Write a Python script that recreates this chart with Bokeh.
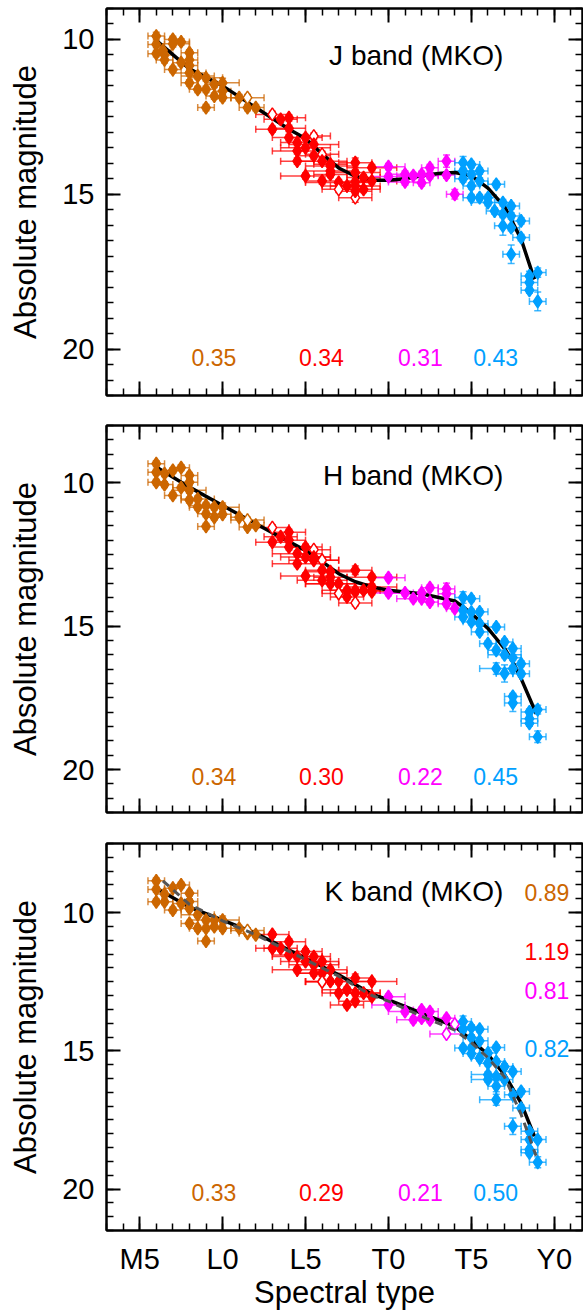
from bokeh.plotting import figure
from bokeh.models import (ColumnDataSource, Range1d, LinearAxis, FixedTicker, Whisker, TeeHead,
                          Label, CustomLabelingPolicy)
from bokeh.layouts import column
from bokeh.embed import file_html
from bokeh.resources import INLINE

FONT = "Liberation Sans"
COLORS = ["#CC6600", "#FF0000", "#FF00FF", "#00A0FF"]
X_TICKS = [5, 10, 15, 20, 25, 30]
X_LABELS = ["M5", "L0", "L5", "T0", "T5", "Y0"]
Y_TICKS = [10, 15, 20]

# ---------------- J band ----------------
J_spt = [[6.0, 6.0, 6.0, 6.4, 6.5, 6.5, 7.0, 7.0, 7.5, 7.0, 7.5, 8.0, 8.0, 8.0, 8.0, 8.0, 8.5, 8.5, 9.0, 9.0, 9.0, 9.5, 9.5, 10.0, 10.0, 10.0, 11.0, 11.5, 12.0, 11.5],
         [13.0, 13.5, 14.0, 13.0, 14.0, 14.0, 14.5, 14.5, 14.5, 15.0, 15.0, 15.5, 15.5, 15.5, 16.0, 16.0, 16.5, 16.5, 17.0, 17.0, 18.0, 18.0, 15.0, 16.0, 16.5, 17.5, 18.0, 18.0, 18.5, 18.5, 19.0, 16.5, 18.0, 18.0, 19.0],
         [20.0, 20.0, 21.0, 21.0, 21.5, 22.0, 22.0, 22.5, 22.5, 23.5, 23.5, 24.0],
         [24.5, 24.5, 24.5, 25.0, 25.0, 25.0, 25.5, 25.5, 25.5, 26.5, 26.0, 25.0, 26.9, 27.4, 26.0, 26.4, 26.9, 27.4, 26.9, 27.4, 28.0, 28.0, 27.4, 28.5, 28.5, 28.5, 29.0, 29.0]]
J_mag = [[9.89, 10.16, 10.46, 10.35, 10.5, 10.66, 10.0, 10.14, 10.08, 10.97, 10.75, 10.43, 10.66, 10.84, 11.08, 11.4, 11.18, 11.61, 11.24, 11.61, 12.2, 11.45, 11.83, 11.4, 11.67, 11.88, 11.88, 12.2, 12.2, 11.88],
         [12.42, 12.58, 12.53, 12.9, 12.87, 13.17, 13.33, 13.6, 13.93, 13.17, 13.5, 13.12, 13.39, 13.76, 13.71, 13.93, 14.03, 14.25, 14.62, 14.84, 13.98, 15.11, 14.41, 14.57, 14.36, 14.73, 14.73, 14.9, 14.46, 14.84, 14.57, 14.09, 14.3, 14.6, 14.14],
         [14.11, 14.43, 14.35, 14.6, 14.4, 14.63, 14.36, 14.14, 14.4, 13.93, 14.38, 15.0],
         [13.98, 14.25, 14.5, 14.04, 14.36, 14.73, 14.25, 14.57, 15.11, 14.68, 15.11, 15.11, 15.27, 15.38, 15.27, 15.54, 15.65, 15.7, 16.02, 16.08, 15.86, 16.4, 16.94, 17.64, 17.85, 18.1, 17.53, 18.46]]
J_xerr = [[0.5, 0.5, 0.5, 0.5, 0.5, 0.5, 0.5, 1.0, 0.5, 0.5, 0.5, 0.5, 0.5, 0.5, 1.0, 0.5, 1.0, 0.5, 1.0, 0.5, 0.5, 0.5, 0.5, 1.0, 0.5, 0.5, 0.5, 0.5, 0.5, 1.0],
          [1.0, 1.0, 1.0, 1.0, 1.0, 1.0, 1.0, 1.5, 1.0, 1.0, 1.5, 1.0, 1.5, 1.0, 1.0, 1.5, 1.0, 1.5, 2.0, 1.0, 1.0, 1.0, 1.5, 1.0, 1.0, 1.5, 1.5, 1.0, 1.0, 1.0, 1.5, 1.5, 1.5, 1.0, 1.5],
          [1.0, 1.0, 1.0, 1.0, 1.0, 0.5, 0.5, 0.5, 0.5, 0.5, 0.5, 0.5],
          [0.5, 0.5, 0.5, 0.5, 0.5, 0.5, 0.5, 0.5, 0.5, 0.5, 0.5, 0.5, 0.5, 0.5, 1.0, 0.5, 0.5, 0.5, 0.5, 0.5, 0.5, 0.5, 0.5, 0.5, 0.5, 0.5, 0.5, 0.5]]
J_yerr = [[0.12, 0.1, 0.1, 0.1, 0.1, 0.1, 0.1, 0.1, 0.1, 0.1, 0.1, 0.1, 0.1, 0.1, 0.1, 0.1, 0.1, 0.1, 0.1, 0.1, 0.1, 0.1, 0.1, 0.15, 0.1, 0.1, 0.1, 0.1, 0.1, 0.1],
          [0.1, 0.1, 0.1, 0.1, 0.1, 0.1, 0.1, 0.1, 0.1, 0.1, 0.1, 0.1, 0.1, 0.1, 0.1, 0.1, 0.1, 0.1, 0.1, 0.1, 0.15, 0.15, 0.1, 0.1, 0.1, 0.1, 0.2, 0.1, 0.1, 0.1, 0.1, 0.1, 0.1, 0.1, 0.1],
          [0.1, 0.1, 0.1, 0.1, 0.1, 0.1, 0.1, 0.1, 0.1, 0.2, 0.1, 0.15],
          [0.2, 0.1, 0.1, 0.1, 0.1, 0.1, 0.1, 0.1, 0.1, 0.1, 0.1, 0.1, 0.1, 0.1, 0.1, 0.1, 0.1, 0.1, 0.3, 0.1, 0.1, 0.1, 0.3, 0.15, 0.1, 0.1, 0.15, 0.3]]
J_open = [[0] * 29 + [1],
          [1, 0, 0, 0, 0, 0, 0, 0, 0, 0, 0, 1, 0, 0, 1, 0, 0, 0, 0, 1, 0, 1, 0, 0, 0, 0, 0, 0, 0, 0, 0, 0, 0, 0, 0],
          [0] * 12,
          [0] * 28]
J_curve_spt = [6, 8, 10, 12, 14, 15, 16, 17, 18, 19, 20, 21, 22, 23, 24, 25, 26, 27, 28, 28.8]
J_curve_mag = [10.03, 10.95, 11.5, 12.2, 12.9, 13.2, 13.7, 14.15, 14.42, 14.55, 14.55, 14.5, 14.4, 14.33, 14.3, 14.4, 14.8, 15.4, 16.45, 17.75]
J_sigma = ["0.35", "0.34", "0.31", "0.43"]

# ---------------- H band ----------------
H_spt = [[6.0, 6.0, 6.0, 6.5, 6.5, 7.0, 7.0, 7.5, 7.5, 8.0, 8.0, 8.0, 8.0, 8.5, 8.5, 9.0, 9.0, 9.0, 9.5, 9.5, 10.0, 10.0, 11.0, 11.5, 12.0, 11.5],
         [13.0, 13.0, 13.5, 14.0, 14.0, 14.0, 14.5, 14.5, 15.0, 15.0, 15.0, 15.5, 15.5, 15.5, 16.0, 16.0, 16.0, 16.5, 16.5, 16.5, 17.0, 17.0, 17.5, 17.5, 18.0, 18.0, 18.0, 18.0, 18.5, 19.0, 19.0, 19.0],
         [20.0, 20.0, 21.0, 21.5, 22.0, 22.0, 22.5, 22.5, 23.5, 23.5, 23.5, 24.0],
         [24.5, 24.5, 24.5, 25.0, 25.0, 25.0, 25.5, 25.5, 25.5, 26.0, 26.5, 26.5, 26.5, 27.0, 27.0, 27.0, 27.5, 27.5, 27.5, 27.5, 27.5, 28.0, 28.0, 28.5, 28.5, 28.5, 29.0, 29.0]]
H_mag = [[9.33, 9.63, 9.98, 9.68, 10.06, 9.57, 10.44, 9.47, 10.17, 9.74, 9.98, 10.26, 10.6, 10.56, 10.85, 10.79, 11.08, 11.52, 10.85, 11.2, 10.85, 11.1, 11.2, 11.54, 11.48, 11.3],
         [11.56, 12.07, 11.88, 11.72, 12.0, 12.24, 12.47, 12.82, 12.24, 12.59, 13.25, 12.33, 12.59, 12.7, 12.7, 13.05, 13.4, 13.29, 13.52, 13.1, 13.52, 13.86, 13.75, 13.98, 13.05, 13.75, 13.8, 14.19, 13.75, 13.29, 13.63, 13.8],
         [13.31, 13.84, 13.84, 14.04, 13.84, 14.04, 13.66, 14.16, 13.7, 13.87, 14.22, 14.39],
         [14.0, 14.45, 14.68, 14.04, 14.51, 14.85, 14.5, 15.2, 14.91, 15.61, 15.03, 15.84, 16.48, 15.55, 16.0, 16.65, 15.78, 16.1, 16.48, 17.45, 17.68, 16.31, 16.66, 17.99, 18.23, 18.39, 17.91, 18.86]]
H_xerr = [[0.5, 0.5, 0.5, 0.5, 0.5, 0.5, 0.5, 0.5, 0.5, 0.5, 0.5, 1.0, 0.5, 1.0, 0.5, 1.0, 0.5, 0.5, 0.5, 0.5, 1.0, 0.5, 0.5, 0.5, 0.5, 1.0],
          [1.0, 1.0, 1.0, 1.0, 1.0, 1.0, 1.5, 1.5, 1.0, 1.5, 1.5, 1.0, 1.0, 1.5, 1.0, 1.0, 1.5, 1.0, 1.5, 1.5, 2.0, 1.0, 1.5, 1.0, 1.0, 1.5, 1.0, 1.0, 1.0, 1.5, 1.5, 1.0],
          [1.0, 1.0, 1.0, 1.0, 0.5, 0.5, 0.5, 0.5, 0.5, 0.5, 0.5, 0.5],
          [0.5, 0.5, 0.5, 0.5, 0.5, 0.5, 0.5, 0.5, 0.5, 0.5, 0.5, 0.5, 1.0, 0.5, 1.0, 0.5, 0.5, 0.5, 0.5, 0.5, 0.5, 0.5, 0.5, 0.5, 0.5, 0.5, 0.5, 0.5]]
H_yerr = [[0.1] * 20 + [0.15, 0.1, 0.1, 0.1, 0.1, 0.1],
          [0.1] * 24 + [0.15, 0.1, 0.1, 0.1, 0.1, 0.1, 0.1, 0.1],
          [0.1, 0.1, 0.1, 0.1, 0.1, 0.1, 0.1, 0.1, 0.2, 0.1, 0.1, 0.1],
          [0.2, 0.1, 0.1, 0.1, 0.1, 0.1, 0.1, 0.1, 0.1, 0.1, 0.1, 0.1, 0.2, 0.1, 0.1, 0.3, 0.1, 0.1, 0.1, 0.1, 0.3, 0.1, 0.1, 0.1, 0.1, 0.1, 0.15, 0.2]]
H_open = [[0] * 25 + [1],
          [1, 0, 0, 0, 0, 0, 0, 0, 0, 0, 0, 1, 0, 0, 1, 0, 0, 0, 0, 0, 0, 1, 0, 0, 0, 0, 0, 1, 0, 0, 0, 0],
          [0] * 12,
          [0] * 28]
H_curve_spt = [6, 8, 10, 12, 14, 15, 16, 17, 18, 19, 20, 22, 24, 24.5, 25, 26, 26.5, 27, 27.5, 28, 28.9]
H_curve_mag = [9.45, 10.15, 10.79, 11.43, 12.05, 12.36, 12.75, 13.17, 13.45, 13.63, 13.75, 13.87, 14.12, 14.33, 14.56, 15.08, 15.43, 15.78, 16.25, 16.83, 18.04]
H_sigma = ["0.34", "0.30", "0.22", "0.45"]

# ---------------- K band ----------------
K_spt = [[6.0, 6.0, 6.0, 6.5, 6.5, 7.0, 7.0, 7.5, 7.5, 8.0, 8.0, 8.0, 8.0, 8.5, 8.5, 9.0, 9.0, 9.0, 9.5, 9.5, 10.0, 10.0, 11.0, 11.5, 12.0, 11.5],
         [13.0, 13.0, 13.5, 14.0, 14.0, 14.5, 14.5, 15.0, 15.0, 15.5, 15.5, 15.5, 16.0, 16.0, 16.0, 16.5, 16.5, 17.0, 17.0, 17.5, 17.5, 18.0, 18.0, 18.0, 18.5, 19.0, 19.0],
         [20.0, 20.0, 21.0, 21.5, 22.0, 22.0, 22.5, 22.5, 23.5, 23.5, 24.0],
         [24.5, 24.5, 24.5, 25.0, 25.0, 25.0, 25.0, 25.5, 25.5, 25.5, 26.0, 26.0, 26.0, 26.0, 26.5, 26.5, 26.5, 26.5, 26.5, 27.0, 27.0, 27.5, 27.5, 27.5, 28.0, 28.0, 28.5, 28.5, 28.5, 28.5, 29.0, 29.0]]
K_mag = [[8.85, 9.16, 9.61, 9.33, 9.61, 9.12, 9.91, 9.0, 9.67, 9.3, 9.6, 9.85, 10.39, 10.08, 10.57, 10.27, 10.57, 11.03, 10.27, 10.51, 10.27, 10.57, 10.57, 10.75, 10.8, 10.65],
         [10.79, 11.29, 11.29, 11.05, 11.53, 11.59, 12.07, 11.41, 11.77, 11.59, 11.89, 12.19, 11.77, 12.19, 12.5, 12.07, 12.49, 12.49, 12.91, 12.79, 13.34, 12.37, 12.91, 13.21, 12.91, 12.49, 13.04],
         [13.04, 13.34, 13.58, 13.88, 13.52, 13.82, 13.58, 13.88, 13.82, 14.39, 14.04],
         [13.94, 14.22, 14.9, 14.16, 14.52, 14.9, 15.1, 14.22, 14.64, 15.27, 15.08, 15.45, 15.86, 16.04, 14.88, 15.39, 15.93, 16.28, 16.77, 15.57, 16.04, 15.75, 16.59, 17.73, 16.47, 17.07, 17.91, 18.21, 18.57, 18.69, 18.21, 19.03]]
K_xerr = [[0.5, 0.5, 0.5, 0.5, 0.5, 0.5, 0.5, 0.5, 0.5, 0.5, 0.5, 0.5, 0.5, 1.0, 0.5, 1.0, 0.5, 0.5, 0.5, 0.5, 1.0, 0.5, 0.5, 0.5, 0.5, 1.0],
          [1.0, 1.0, 1.0, 1.0, 1.0, 1.5, 1.5, 1.0, 1.5, 1.0, 1.5, 1.0, 1.0, 1.5, 1.0, 1.0, 1.5, 2.0, 1.0, 1.5, 1.0, 1.0, 1.5, 1.0, 1.0, 1.5, 1.0],
          [1.0, 1.0, 1.0, 1.0, 0.5, 0.5, 0.5, 0.5, 0.5, 1.0, 0.5],
          [0.5, 0.5, 0.5, 0.5, 0.5, 0.5, 0.5, 0.5, 0.5, 0.5, 0.5, 0.5, 1.0, 1.0, 0.5, 0.5, 0.5, 0.5, 1.0, 0.5, 0.5, 0.5, 0.5, 0.5, 0.5, 0.5, 0.5, 0.5, 0.5, 0.5, 0.5, 0.5]]
K_yerr = [[0.1] * 20 + [0.15, 0.1, 0.1, 0.1, 0.1, 0.1],
          [0.1] * 21 + [0.15, 0.1, 0.1, 0.1, 0.1, 0.1],
          [0.1] * 11,
          [0.2, 0.1, 0.1, 0.1, 0.1, 0.1, 0.1, 0.1, 0.1, 0.1, 0.1, 0.1, 0.1, 0.1, 0.1, 0.1, 0.1, 0.2, 0.2, 0.1, 0.1, 0.1, 0.1, 0.3, 0.1, 0.1, 0.1, 0.1, 0.1, 0.1, 0.1, 0.2]]
K_open = [[0] * 25 + [1],
          [0] * 14 + [1] + [0] * 12,
          [0] * 9 + [1, 1],
          [0] * 32]
K_curve_spt = [6.2, 8, 10, 12, 15, 17, 19, 20, 22, 24, 25, 26, 27, 28, 28.8]
K_curve_mag = [9.19, 9.8, 10.27, 10.75, 11.65, 12.25, 12.95, 13.16, 13.64, 14.12, 14.6, 15.14, 15.86, 16.89, 18.09]
K_alt_spt = [6.4, 8, 10, 12, 15, 17, 19, 20, 22, 24, 25, 26, 27, 28, 28.9]
K_alt_mag = [8.85, 9.7, 10.3, 10.8, 11.7, 12.3, 13.0, 13.2, 13.75, 14.25, 14.7, 15.25, 15.95, 17.3, 18.8]
K_sigma = ["0.33", "0.29", "0.21", "0.50"]
K_right_text = ["0.89", "1.19", "0.81", "0.82"]
K_right_mag = [9.28, 11.41, 12.80, 14.90]

SIGMA_SPT = [9.48, 15.96, 21.93, 26.46]

NO_LABELS_JS = """
const keep = []
for (const i of indices) keep.push(i)
for (const i of keep) indices.unset(i)
return indices
"""


def style_axis(ax, labels=False):
    ax.axis_line_width = 2
    ax.axis_line_color = "black"
    ax.major_tick_line_width = 2
    ax.minor_tick_line_width = 1.5
    ax.major_tick_in = 14
    ax.major_tick_out = 0
    ax.minor_tick_in = 7
    ax.minor_tick_out = 0
    if labels:
        ax.major_label_text_font = FONT
        ax.major_label_text_font_size = "29px"
        ax.major_label_text_color = "black"
        ax.axis_label_text_font = FONT
        ax.axis_label_text_font_size = "31px"
        ax.axis_label_text_font_style = "normal"
        ax.axis_label_text_color = "black"
    else:
        ax.major_label_policy = CustomLabelingPolicy(code=NO_LABELS_JS)
        ax.major_label_text_font_size = "0px"
        ax.major_label_standoff = 0
        ax.axis_label = None


def make_panel(spt, mag, xerr, yerr, opn, curve_spt, curve_mag, ytop, band_text, band_mag,
               sigma, sigma_mag, border_top, border_bottom, x_labels):
    p = figure(frame_width=476, frame_height=387,
               x_range=Range1d(3, 31.7), y_range=Range1d(21.5, ytop),
               output_backend="svg", toolbar_location=None,
               x_axis_location=None, y_axis_location=None,
               min_border_left=106, min_border_right=1,
               min_border_top=border_top, min_border_bottom=border_bottom)
    p.grid.visible = False
    p.outline_line_color = "black"
    p.outline_line_width = 2
    p.background_fill_color = "white"
    p.border_fill_color = "white"

    xt = FixedTicker(ticks=X_TICKS, minor_ticks=list(range(3, 32)))
    yt = FixedTicker(ticks=Y_TICKS, minor_ticks=[v / 2 for v in range(14, 44)])

    left = LinearAxis(ticker=yt, axis_label="Absolute magnitude")
    style_axis(left, labels=True)
    left.major_label_standoff = 12
    left.axis_label_standoff = 16
    p.add_layout(left, "left")

    right = LinearAxis(ticker=yt)
    style_axis(right)
    p.add_layout(right, "right")

    top = LinearAxis(ticker=xt)
    style_axis(top)
    p.add_layout(top, "above")

    bottom = LinearAxis(ticker=xt)
    if x_labels:
        style_axis(bottom, labels=True)
        bottom.axis_label = "Spectral type"
        bottom.major_label_overrides = {t: l for t, l in zip(X_TICKS, X_LABELS)}
        bottom.major_label_standoff = 12
        bottom.axis_label_standoff = -3
    else:
        style_axis(bottom)
    p.add_layout(bottom, "below")

    # model curve
    p.line(curve_spt, curve_mag, line_color="black", line_width=3.5)

    for g in range(4):
        c = COLORS[g]
        xs, ys = spt[g], mag[g]
        src = ColumnDataSource(dict(
            x=xs, y=ys,
            xl=[a - e for a, e in zip(xs, xerr[g])], xh=[a + e for a, e in zip(xs, xerr[g])],
            yl=[a - e for a, e in zip(ys, yerr[g])], yh=[a + e for a, e in zip(ys, yerr[g])],
            fill=["white" if o else c for o in opn[g]],
        ))
        for dim, base, lo, hi in (("width", "y", "xl", "xh"), ("height", "x", "yl", "yh")):
            p.add_layout(Whisker(
                base=base, lower=lo, upper=hi, dimension=dim, source=src,
                line_color=c, line_alpha=0.75, line_width=1.5,
                lower_head=TeeHead(size=7, line_color=c, line_alpha=0.75, line_width=1.5),
                upper_head=TeeHead(size=7, line_color=c, line_alpha=0.75, line_width=1.5)))
        p.scatter("x", "y", source=src, marker="diamond", size=13,
                  fill_color="fill", line_color=c, line_width=1.5)

    p.add_layout(Label(x=26.93, y=band_mag, text=band_text, text_align="right",
                       text_baseline="middle", text_font=FONT, text_font_size="28px",
                       text_color="black"))
    for g in range(4):
        p.add_layout(Label(x=SIGMA_SPT[g], y=sigma_mag, text=sigma[g], text_align="center",
                           text_baseline="middle", text_font=FONT, text_font_size="23px",
                           text_color=COLORS[g]))
    return p


p1 = make_panel(J_spt, J_mag, J_xerr, J_yerr, J_open, J_curve_spt, J_curve_mag, 9.0,
                "J band (MKO)", 10.53, J_sigma, 20.26, 8, 15, False)
p2 = make_panel(H_spt, H_mag, H_xerr, H_yerr, H_open, H_curve_spt, H_curve_mag, 8.0,
                "H band (MKO)", 9.74, H_sigma, 20.23, 15, 15, False)
p3 = make_panel(K_spt, K_mag, K_xerr, K_yerr, K_open, K_curve_spt, K_curve_mag, 7.5,
                "K band (MKO)", 9.25, K_sigma, 20.14, 16, 81, True)
p3.line(K_alt_spt, K_alt_mag, line_color="#555555", line_width=3, line_dash="8 6")
for g in range(4):
    p3.add_layout(Label(x=30.9, y=K_right_mag[g], text=K_right_text[g], text_align="right",
                        text_baseline="middle", text_font=FONT, text_font_size="23px",
                        text_color=COLORS[g]))

layout = column(p1, p2, p3, spacing=0)
open("out.html", "w").write(file_html(layout, INLINE))
